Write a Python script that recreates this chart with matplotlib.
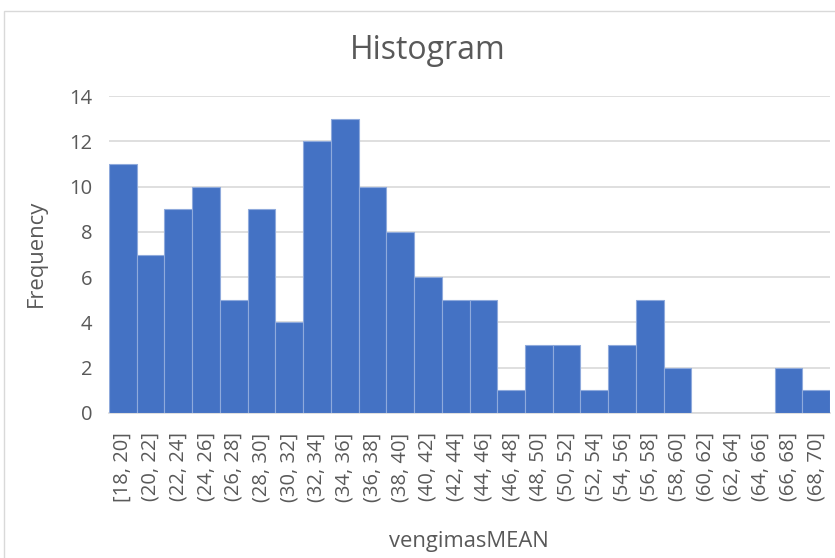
import matplotlib
matplotlib.use("Agg")
import matplotlib.pyplot as plt
from matplotlib.patches import Rectangle

bins = ["[18, 20]", "(20, 22]", "(22, 24]", "(24, 26]", "(26, 28]", "(28, 30]",
        "(30, 32]", "(32, 34]", "(34, 36]", "(36, 38]", "(38, 40]", "(40, 42]",
        "(42, 44]", "(44, 46]", "(46, 48]", "(48, 50]", "(50, 52]", "(52, 54]",
        "(54, 56]", "(56, 58]", "(58, 60]", "(60, 62]", "(62, 64]", "(64, 66]",
        "(66, 68]", "(68, 70]"]
freq = [11, 7, 9, 10, 5, 9, 4, 12, 13, 10, 8, 6, 5, 5, 1, 3, 3, 1, 3, 5, 2, 0, 0, 0, 2, 1]
yticks = [0, 2, 4, 6, 8, 10, 12, 14]

plt.rcParams['font.family'] = ['Open Sans', 'DejaVu Sans']
txt = '#595959'

W, H = 835, 558
fig = plt.figure(figsize=(W / 100, H / 100), dpi=100)
fig.patches.append(Rectangle((4 / W, -0.1), 1.1, 1 - 11 / H + 0.1, transform=fig.transFigure,
                             fill=False, edgecolor='#D9D9D9', linewidth=1.0))
ax = fig.add_axes([109 / W, 1 - 413 / H, (830 - 109) / W, (413 - 96) / H])

x = list(range(len(bins)))
edges = ['#8FAADC' if v > 0 else 'none' for v in freq]
ax.bar(x, freq, width=1.0, color='#4472C4', edgecolor=edges, linewidth=0.8, zorder=3)
ax.set_xlim(-0.5, len(bins) - 0.5)
ax.set_ylim(0, 14)
ax.set_yticks(yticks)
ax.set_yticklabels([str(v) for v in yticks])
ax.set_xticks(x)
ax.set_xticklabels(bins, rotation=90)
ax.grid(axis='y', color='#D9D9D9', linewidth=1.2, zorder=0)
for s in ['top', 'right', 'left']:
    ax.spines[s].set_visible(False)
ax.spines['bottom'].set_color('#D9D9D9')
ax.spines['bottom'].set_linewidth(1.2)
ax.tick_params(axis='both', length=0, colors=txt, labelsize=14.5)
ax.tick_params(axis='y', pad=12)
ax.tick_params(axis='x', pad=14)

fig.text(427.5 / W, 1 - 59 / H, 'Histogram', fontsize=23, color=txt,
         ha='center', va='baseline')
fig.text(36 / W, 1 - 253 / H, 'Frequency', fontsize=15.8, color=txt,
         ha='center', va='center', rotation=90)
fig.text(469 / W, 1 - 542 / H, 'vengimasMEAN', fontsize=15.8, color=txt,
         ha='center', va='center')

fig.savefig('out.png', dpi=100)
